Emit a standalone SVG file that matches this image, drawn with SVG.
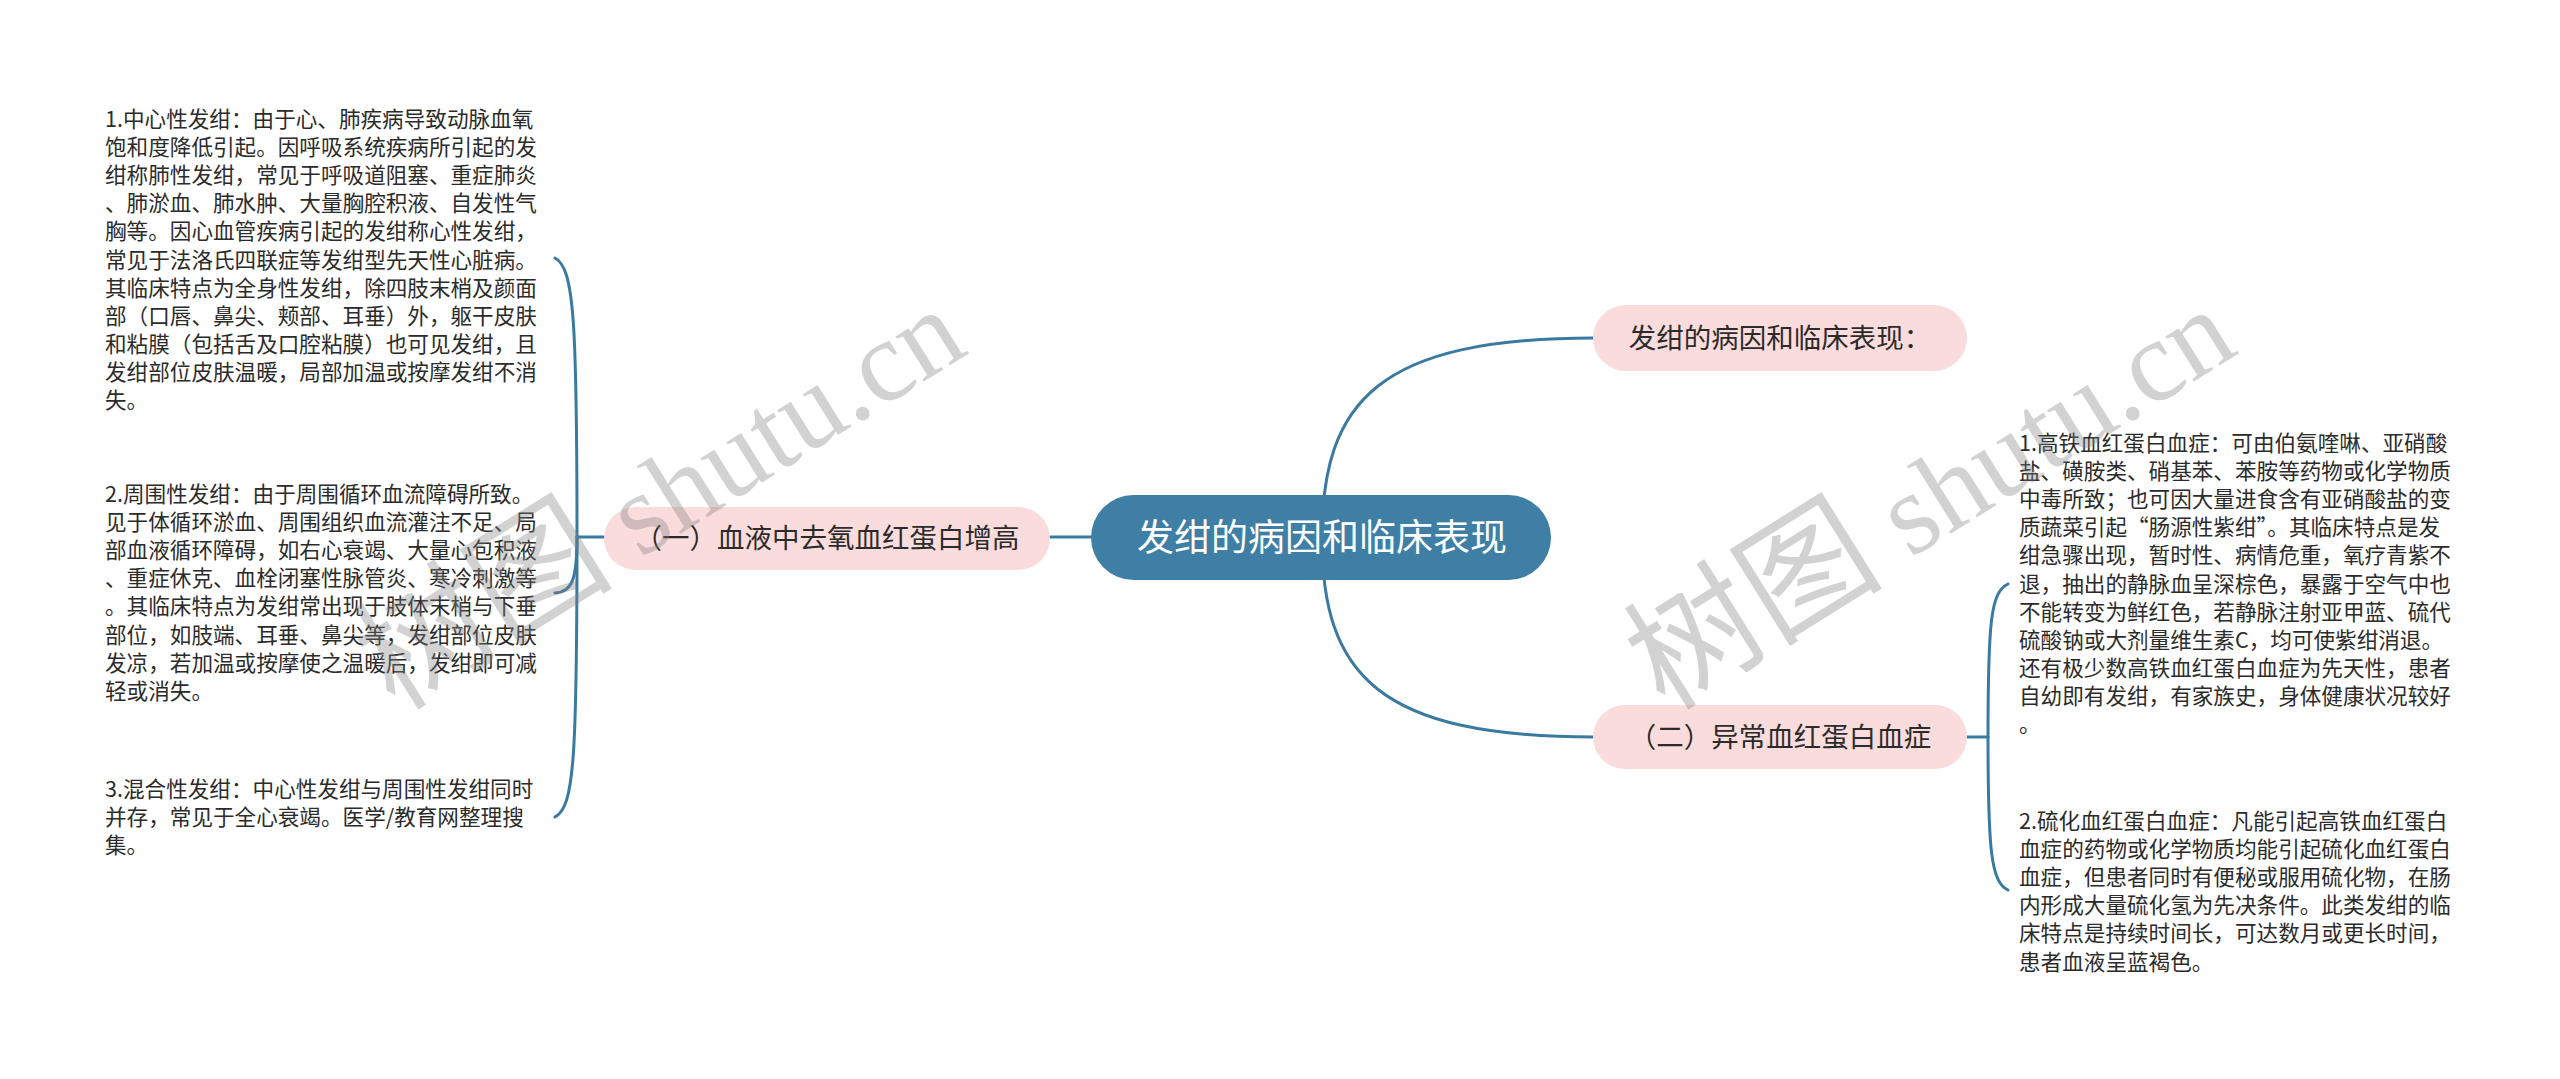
<svg xmlns="http://www.w3.org/2000/svg" width="2560" height="1079" viewBox="0 0 2560 1079">
<style>
.bg{fill:#ffffff}
.conn{fill:none;stroke:#3b7aa0;stroke-width:3;stroke-linecap:round}
.root{fill:#3f7fa6}
.sub{fill:#fbdcdc}
.rootText{font-family:"Noto Sans CJK SC","Liberation Sans",sans-serif;font-size:37px;fill:#ffffff;text-anchor:middle}
.subText{font-family:"Noto Sans CJK SC","Liberation Sans",sans-serif;font-size:27.5px;fill:#2b2b2b;text-anchor:middle}
.body{font-family:"Noto Sans CJK SC","Liberation Sans",sans-serif;font-size:21.6px;fill:#2b2b2b}
.wm{font-family:"Liberation Serif","Noto Sans CJK SC",serif;fill:#808080;opacity:0.35}
.wmc{font-size:130px}
.wml{font-size:116px}
</style>
<rect class="bg" x="0" y="0" width="2560" height="1079"/>
<g id="connectors">
<path class="conn" d="M1091,537 L1050,537"/>
<path class="conn" d="M1322,538 C1322,400 1380,338 1594,338"/>
<path class="conn" d="M1322,538 C1322,676 1380,737 1594,737"/>
<path class="conn" d="M604,537 L577,537"/>
<path class="conn" d="M577,537 C577,320 574,268 555,258"/>
<path class="conn" d="M577,537 C577,580 572,592 555,593"/>
<path class="conn" d="M577,537 C577,760 574,807 555,817"/>
<path class="conn" d="M1967,737 L1988,737"/>
<path class="conn" d="M1988,737 C1988,620 1991,592 2008,584"/>
<path class="conn" d="M1988,737 C1988,850 1991,882 2008,890"/>
</g>
<g id="root">
<rect class="root" x="1091" y="495" width="460" height="85" rx="42.5"/>
<text class="rootText" x="1322" y="551">发绀的病因和临床表现</text>
</g>
<g id="node-left">
<rect class="sub" x="604" y="507" width="446" height="63" rx="31.5"/>
<text class="subText" x="827" y="548">（一）血液中去氧血红蛋白增高</text>
</g>
<g id="node-right-top">
<rect class="sub" x="1593" y="305" width="374" height="66" rx="33"/>
<text class="subText" x="1780" y="348">发绀的病因和临床表现：</text>
</g>
<g id="node-right-bottom">
<rect class="sub" x="1593" y="705" width="374" height="64" rx="32"/>
<text class="subText" x="1780" y="747">（二）异常血红蛋白血症</text>
</g>
<g id="text-left-1">
<text class="body">
<tspan x="105" y="127">1.中心性发绀：由于心、肺疾病导致动脉血氧</tspan>
<tspan x="105" y="155.1">饱和度降低引起。因呼吸系统疾病所引起的发</tspan>
<tspan x="105" y="183.2">绀称肺性发绀，常见于呼吸道阻塞、重症肺炎</tspan>
<tspan x="105" y="211.3">、肺淤血、肺水肿、大量胸腔积液、自发性气</tspan>
<tspan x="105" y="239.4">胸等。因心血管疾病引起的发绀称心性发绀，</tspan>
<tspan x="105" y="267.5">常见于法洛氏四联症等发绀型先天性心脏病。</tspan>
<tspan x="105" y="295.6">其临床特点为全身性发绀，除四肢末梢及颜面</tspan>
<tspan x="105" y="323.7">部（口唇、鼻尖、颊部、耳垂）外，躯干皮肤</tspan>
<tspan x="105" y="351.8">和粘膜（包括舌及口腔粘膜）也可见发绀，且</tspan>
<tspan x="105" y="379.9">发绀部位皮肤温暖，局部加温或按摩发绀不消</tspan>
<tspan x="105" y="408">失。</tspan>
</text>
</g>
<g id="text-left-2">
<text class="body">
<tspan x="105" y="502">2.周围性发绀：由于周围循环血流障碍所致。</tspan>
<tspan x="105" y="530.1">见于体循环淤血、周围组织血流灌注不足、局</tspan>
<tspan x="105" y="558.2">部血液循环障碍，如右心衰竭、大量心包积液</tspan>
<tspan x="105" y="586.3">、重症休克、血栓闭塞性脉管炎、寒冷刺激等</tspan>
<tspan x="105" y="614.4">。其临床特点为发绀常出现于肢体末梢与下垂</tspan>
<tspan x="105" y="642.5">部位，如肢端、耳垂、鼻尖等，发绀部位皮肤</tspan>
<tspan x="105" y="670.6">发凉，若加温或按摩使之温暖后，发绀即可减</tspan>
<tspan x="105" y="698.7">轻或消失。</tspan>
</text>
</g>
<g id="text-left-3">
<text class="body">
<tspan x="105" y="797">3.混合性发绀：中心性发绀与周围性发绀同时</tspan>
<tspan x="105" y="825.1">并存，常见于全心衰竭。医学/教育网整理搜</tspan>
<tspan x="105" y="853.2">集。</tspan>
</text>
</g>
<g id="text-right-1">
<text class="body">
<tspan x="2019" y="451">1.高铁血红蛋白血症：可由伯氨喹啉、亚硝酸</tspan>
<tspan x="2019" y="479.1">盐、磺胺类、硝基苯、苯胺等药物或化学物质</tspan>
<tspan x="2019" y="507.2">中毒所致；也可因大量进食含有亚硝酸盐的变</tspan>
<tspan x="2019" y="535.3">质蔬菜引起“肠源性紫绀”。其临床特点是发</tspan>
<tspan x="2019" y="563.4">绀急骤出现，暂时性、病情危重，氧疗青紫不</tspan>
<tspan x="2019" y="591.5">退，抽出的静脉血呈深棕色，暴露于空气中也</tspan>
<tspan x="2019" y="619.6">不能转变为鲜红色，若静脉注射亚甲蓝、硫代</tspan>
<tspan x="2019" y="647.7">硫酸钠或大剂量维生素C，均可使紫绀消退。</tspan>
<tspan x="2019" y="675.8">还有极少数高铁血红蛋白血症为先天性，患者</tspan>
<tspan x="2019" y="703.9">自幼即有发绀，有家族史，身体健康状况较好</tspan>
<tspan x="2019" y="732">。</tspan>
</text>
</g>
<g id="text-right-2">
<text class="body">
<tspan x="2019" y="829">2.硫化血红蛋白血症：凡能引起高铁血红蛋白</tspan>
<tspan x="2019" y="857.1">血症的药物或化学物质均能引起硫化血红蛋白</tspan>
<tspan x="2019" y="885.2">血症，但患者同时有便秘或服用硫化物，在肠</tspan>
<tspan x="2019" y="913.3">内形成大量硫化氢为先决条件。此类发绀的临</tspan>
<tspan x="2019" y="941.4">床特点是持续时间长，可达数月或更长时间，</tspan>
<tspan x="2019" y="969.5">患者血液呈蓝褐色。</tspan>
</text>
</g>
<g id="watermarks">
<text class="wm" transform="translate(395,712) rotate(-32)"><tspan class="wmc">树图</tspan><tspan class="wml"> shutu.cn</tspan></text>
<text class="wm" transform="translate(1665,712) rotate(-32)"><tspan class="wmc">树图</tspan><tspan class="wml"> shutu.cn</tspan></text>
</g>
</svg>
